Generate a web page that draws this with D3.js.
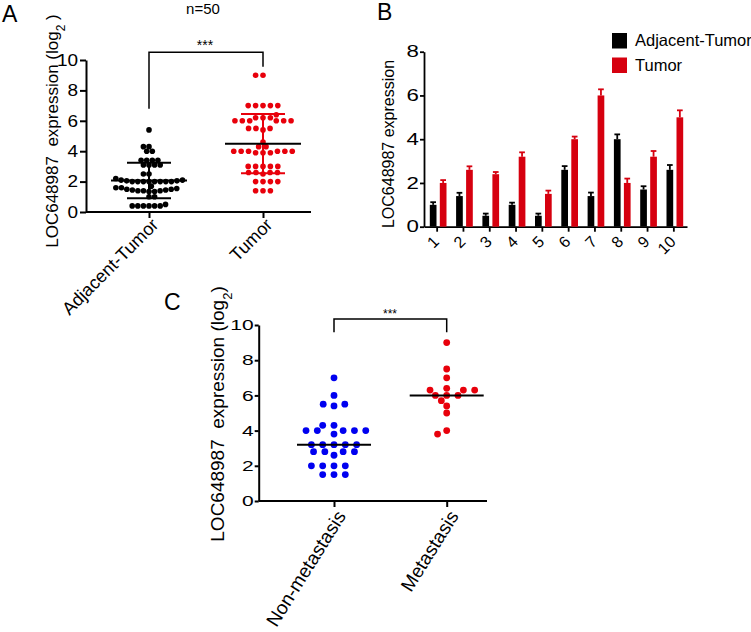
<!DOCTYPE html>
<html>
<head>
<meta charset="utf-8">
<script src="https://cdn.jsdelivr.net/npm/d3@7"></script>
<style>
  html, body { margin: 0; padding: 0; background: #fff; }
  svg { display: block; }
  text { font-family: "Liberation Sans", Arial, Helvetica, sans-serif; fill: #000; }
</style>
</head>
<body>
<svg id="chart" width="751" height="632"></svg>
<script>
// ---------------- DATA ----------------
// Panel A: scatter (n=50 per group)
const A_CATS = ["Adjacent-Tumor", "Tumor"];
const A_ADJ = [5.4,
  4.3, 4.0, 4.0, 4.3,
  3.1, 3.1, 3.1, 3.1, 3.4, 3.4, 3.4, 3.4,
  2.5, 2.5,
  2.0, 2.0, 2.0, 2.0, 2.0, 2.0, 2.0, 2.0, 2.05, 2.05, 2.1, 2.1, 2.2,
  1.35, 1.35, 1.4, 1.4, 1.4, 1.45, 1.45, 1.5, 1.5, 1.55, 1.6, 1.6, 1.7,
  1.0, 1.0,
  0.4, 0.4, 0.4, 0.4, 0.4, 0.4, 0.5];
const A_TUM = [9.0, 9.0,
  7.0, 7.0, 7.0, 7.0, 7.0,
  6.2, 6.2, 6.2, 6.4, 6.0, 6.0, 6.0, 6.0, 6.0, 6.0,
  5.4, 5.5, 5.5, 5.5,
  4.6,
  3.9, 3.9, 3.9, 4.0, 4.0, 4.0, 4.0, 4.0, 4.0, 4.3, 4.3,
  2.5, 2.6, 2.6, 2.6, 2.6, 3.0, 3.0, 3.0, 3.0, 3.0,
  2.0, 2.0, 2.0, 2.0,
  1.4, 1.4, 1.4];
const A_TICKS = [0, 2, 4, 6, 8, 10];

// Panel B: paired bars
const B_SAMPLES = ["1", "2", "3", "4", "5", "6", "7", "8", "9", "10"];
const B_SERIES = ["Adjacent-Tumor", "Tumor"];
const B_ADJ = [1.0, 1.4, 0.5, 1.0, 0.5, 2.6, 1.4, 4.0, 1.7, 2.6];
const B_ADJ_ERR = [0.12, 0.15, 0.1, 0.1, 0.1, 0.17, 0.16, 0.22, 0.15, 0.22];
const B_TUM = [2.0, 2.6, 2.4, 3.2, 1.5, 4.0, 6.0, 2.0, 3.2, 5.0];
const B_TUM_ERR = [0.13, 0.16, 0.1, 0.2, 0.15, 0.12, 0.28, 0.2, 0.26, 0.32];
const B_TICKS = [0, 2, 4, 6, 8];

// Panel C: scatter with median
const C_CATS = ["Non-metastasis", "Metastasis"];
const C_NON = [7.0, 6.0, 5.4, 5.5, 5.5,
  4.3, 3.8, 4.3, 4.0, 4.0, 4.0, 4.0, 4.0,
  3.2, 3.2, 3.2, 3.2, 3.2,
  2.6, 2.8, 2.8, 2.8, 2.8,
  2.0, 2.0, 2.0, 2.0,
  1.5, 1.5, 1.5];
const C_MET = [9.0, 7.5, 7.0,
  6.0, 6.0, 6.0, 5.7, 6.4, 6.3, 6.3, 6.3,
  5.4, 5.0, 4.0, 3.8];
const C_TICKS = [0, 2, 4, 6, 8, 10];

// ---------------- STYLE ----------------
const RED = "#e8000b", BAR_RED = "#d6000f", BLUE = "#0000f0", BLACK = "#000";
const FONT = '"Liberation Sans", Arial, Helvetica, sans-serif';

const svg = d3.select("#chart");
svg.append("rect").attr("width", 751).attr("height", 632).attr("fill", "#fff");

// beeswarm layout (greedy, nearest-to-centre slot)
function swarm(vals, y, Dx, Dy) {
  const placed = [];
  vals.forEach(v => {
    const py = y(v);
    const cands = [0];
    placed.forEach(p => {
      const d = Math.abs(p.py - py);
      if (d < Dy) {
        const w = Dx * Math.sqrt(1 - (d / Dy) ** 2);
        cands.push(p.off - w, p.off + w);
      }
    });
    const ok = cands.filter(c => placed.every(p =>
      ((p.off - c) / Dx) ** 2 + ((p.py - py) / Dy) ** 2 >= 0.995));
    const nNeg = placed.filter(p => p.off < -0.01).length;
    const nPos = placed.filter(p => p.off > 0.01).length;
    ok.sort((a, b) => {
      const dd = Math.abs(a) - Math.abs(b);
      if (Math.abs(dd) > 0.05) return dd;
      return nNeg <= nPos ? a - b : b - a;
    });
    placed.push({ v, py, off: ok[0] });
  });
  return placed;
}

function styleAxis(g, w) {
  g.selectAll(".domain").attr("stroke", BLACK).attr("stroke-width", w);
  g.selectAll(".tick line").attr("stroke", BLACK).attr("stroke-width", w);
  g.selectAll("text").style("font-family", FONT).attr("fill", BLACK);
}
// left-axis tick labels, horizontally widened like the reference
function wideLabels(g, size, sx, offset) {
  g.selectAll(".tick text").style("font-size", size + "px")
    .attr("x", -offset / sx).attr("transform", `scale(${sx},1)`);
}

// ================= PANEL A =================
{
  const x0 = 86, x1 = 311, yTop = 60, yBot = 212;
  const y = d3.scaleLinear().domain([0, 10]).range([yBot, yTop]);
  const x = d3.scalePoint().domain(A_CATS).range([149, 263]);

  const gy = svg.append("g").attr("transform", `translate(${x0},0)`)
    .call(d3.axisLeft(y).tickValues(A_TICKS).tickSize(6).tickPadding(3).tickSizeOuter(0).tickFormat(d3.format("d")));
  styleAxis(gy, 2);
  wideLabels(gy, 16.5, 1.15, 8);

  const gx = svg.append("g").attr("transform", `translate(0,${yBot})`)
    .call(d3.axisBottom(x).tickSize(6).tickSizeOuter(0));
  gx.select(".domain").attr("d", `M${x0},0H${x1}`);
  styleAxis(gx, 2);
  gx.selectAll("text").style("font-size", "18px").style("text-anchor", "end")
    .attr("x", 0).attr("y", 0).attr("dy", 0)
    .attr("transform", "translate(10,14) rotate(-45)");

  const groups = [[A_ADJ, BLACK, 5.6], [A_TUM, RED, 7.4]];
  groups.forEach(([vals, col, dx], i) => {
    const cx = x(A_CATS[i]);
    const pts = swarm(vals, y, dx, 5.0);
    svg.append("g").selectAll("circle").data(pts).join("circle")
      .attr("cx", d => cx + d.off).attr("cy", d => d.py).attr("r", 2.8).attr("fill", col);
    const m = d3.mean(vals), sd = d3.deviation(vals);
    const g = svg.append("g").attr("stroke-width", 2);
    g.append("line").attr("x1", cx).attr("x2", cx).attr("y1", y(m - sd)).attr("y2", y(m + sd)).attr("stroke", col);
    [m - sd, m + sd].forEach(v => g.append("line").attr("x1", cx - 22).attr("x2", cx + 22)
      .attr("y1", y(v)).attr("y2", y(v)).attr("stroke", col));
    g.append("line").attr("x1", cx - 38).attr("x2", cx + 38).attr("y1", y(m)).attr("y2", y(m)).attr("stroke", BLACK);
  });

  // significance bracket
  const bY = 52.3;
  svg.append("path").attr("fill", "none").attr("stroke", BLACK).attr("stroke-width", 1.5)
    .attr("d", `M${x(A_CATS[0])},${y(6.8)}V${bY}H${x(A_CATS[1])}V${y(9.55)}`);
  svg.append("text").attr("x", 205).attr("y", 50).attr("text-anchor", "middle")
    .style("font-size", "14px").text("***");
  svg.append("text").attr("x", 203).attr("y", 14).attr("text-anchor", "middle")
    .style("font-size", "15px").text("n=50");

  const yl = svg.append("text").attr("transform", "translate(58,131) rotate(-90)")
    .attr("text-anchor", "middle").style("font-size", "17px").style("white-space", "pre");
  yl.append("tspan").text("LOC648987  expression (log");
  yl.append("tspan").attr("baseline-shift", "sub").style("font-size", "12px").text("2");
  yl.append("tspan").text(" )");

  svg.append("text").attr("x", 2).attr("y", 22).style("font-size", "23px").text("A");
}

// ================= PANEL B =================
{
  const x0 = 424, x1 = 687, yTop = 51.7, yBot = 226.7;
  const y = d3.scaleLinear().domain([0, 8]).range([yBot, yTop]);
  const x = d3.scaleBand().domain(B_SAMPLES).range([x0, x1]);
  const xs = d3.scaleBand().domain(B_SERIES).range([5.8, 22.5]).paddingInner(0.33);

  const gy = svg.append("g").attr("transform", `translate(${x0},0)`)
    .call(d3.axisLeft(y).tickValues(B_TICKS).tickSize(4).tickPadding(2).tickSizeOuter(0).tickFormat(d3.format("d")));
  styleAxis(gy, 1.8);
  wideLabels(gy, 16.5, 1.35, 5);

  const gx = svg.append("g").attr("transform", `translate(0,${yBot})`)
    .call(d3.axisBottom(x).tickSize(5).tickSizeOuter(0));
  styleAxis(gx, 1.8);
  gx.selectAll("text").style("font-size", "16px").style("text-anchor", "end")
    .attr("x", 0).attr("y", 0).attr("dy", 0)
    .attr("transform", "translate(3,16) rotate(-45)");

  const series = [[B_ADJ, B_ADJ_ERR, BLACK], [B_TUM, B_TUM_ERR, BAR_RED]];
  series.forEach(([vals, errs, col], si) => {
    const g = svg.append("g");
    const bw = xs.bandwidth();
    B_SAMPLES.forEach((s, i) => {
      const bx = x(s) + xs(B_SERIES[si]);
      g.append("line").attr("x1", bx + bw / 2).attr("x2", bx + bw / 2)
        .attr("y1", y(vals[i])).attr("y2", y(vals[i] + errs[i])).attr("stroke", col).attr("stroke-width", 1.8);
      g.append("line").attr("x1", bx + 0.5).attr("x2", bx + bw - 0.5)
        .attr("y1", y(vals[i] + errs[i])).attr("y2", y(vals[i] + errs[i])).attr("stroke", col).attr("stroke-width", 1.8);
      g.append("rect").attr("x", bx).attr("width", bw)
        .attr("y", y(vals[i])).attr("height", y(0) - y(vals[i])).attr("fill", col);
    });
  });

  svg.append("text").attr("transform", "translate(394,144) rotate(-90)")
    .attr("text-anchor", "middle").style("font-size", "16px").text("LOC648987 expression");

  const leg = svg.append("g");
  B_SERIES.forEach((s, i) => {
    const col = i === 0 ? BLACK : BAR_RED;
    leg.append("rect").attr("x", 612).attr("y", 33 + i * 24.5).attr("width", 15).attr("height", 15.5).attr("fill", col);
    leg.append("text").attr("x", 635).attr("y", 46 + i * 24.5).style("font-size", "16.5px").text(s);
  });

  svg.append("text").attr("x", 377).attr("y", 20).style("font-size", "23px").text("B");
}

// ================= PANEL C =================
{
  const x0 = 258.7, x1 = 487, yTop = 325, yBot = 501;
  const y = d3.scaleLinear().domain([0, 10]).range([yBot, yTop]);
  const x = d3.scalePoint().domain(C_CATS).range([334, 446.7]);

  const gy = svg.append("g").attr("transform", `translate(${x0},0)`)
    .call(d3.axisLeft(y).tickValues(C_TICKS).tickSize(4).tickPadding(2).tickSizeOuter(0).tickFormat(d3.format("d")));
  styleAxis(gy, 2);
  wideLabels(gy, 14.5, 1.45, 5);

  const gx = svg.append("g").attr("transform", `translate(0,${yBot})`)
    .call(d3.axisBottom(x).tickSize(6).tickSizeOuter(0));
  gx.select(".domain").attr("d", `M${x0},0H${x1}`);
  styleAxis(gx, 2);
  gx.selectAll("text").style("font-size", "19px").style("text-anchor", "end")
    .attr("x", 0).attr("y", 0).attr("dy", 0)
    .attr("transform", "translate(12,15) rotate(-58)");

  const groups = [[C_NON, BLUE], [C_MET, RED]];
  groups.forEach(([vals, col], i) => {
    const cx = x(C_CATS[i]);
    const pts = swarm(vals, y, 11.3, 6.0);
    svg.append("g").selectAll("circle").data(pts).join("circle")
      .attr("cx", d => cx + d.off).attr("cy", d => d.py).attr("r", 3.4).attr("fill", col);
    const med = d3.median(vals);
    svg.append("line").attr("x1", cx - 37).attr("x2", cx + 37).attr("y1", y(med)).attr("y2", y(med))
      .attr("stroke", BLACK).attr("stroke-width", 2);
  });

  const bY = 319;
  svg.append("path").attr("fill", "none").attr("stroke", BLACK).attr("stroke-width", 1.5)
    .attr("d", `M${x(C_CATS[0])},${332.3}V${bY}H${x(C_CATS[1])}V${332.3}`);
  svg.append("text").attr("x", 390).attr("y", 317.5).attr("text-anchor", "middle")
    .style("font-size", "12px").text("***");

  const yl = svg.append("text").attr("transform", "translate(224,414) rotate(-90)")
    .attr("text-anchor", "middle").style("font-size", "19px").style("white-space", "pre");
  yl.append("tspan").text("LOC648987  expression (log");
  yl.append("tspan").attr("baseline-shift", "sub").style("font-size", "13px").text("2");
  yl.append("tspan").text(")");

  svg.append("text").attr("x", 164).attr("y", 310).style("font-size", "23px").text("C");
}
</script>
</body>
</html>
